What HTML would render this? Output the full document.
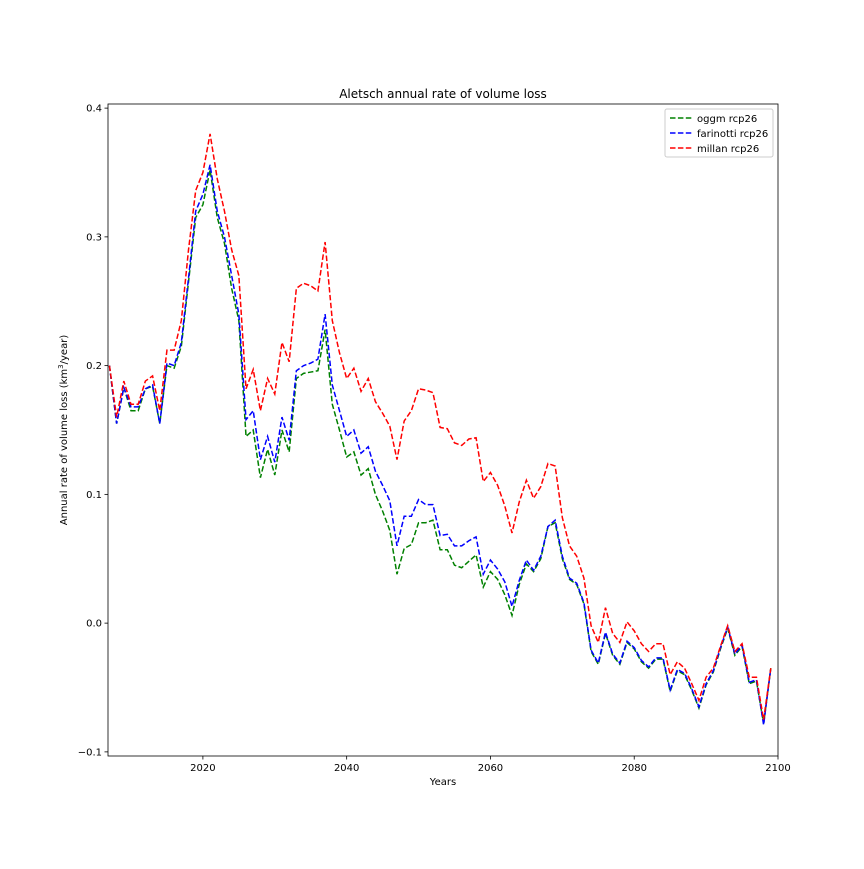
<!DOCTYPE html>
<html><head><meta charset="utf-8"><style>
body{margin:0;background:#fff;font-family:"Liberation Sans","DejaVu Sans",sans-serif;}
svg text{font-family:"DejaVu Sans","Liberation Sans",sans-serif;}
</style></head><body>
<svg id="chart" width="864" height="864" viewBox="0 0 864 864" xmlns="http://www.w3.org/2000/svg">
<rect width="864" height="864" fill="#fff"/>
<text x="443" y="98" font-size="12" text-anchor="middle">Aletsch annual rate of volume loss</text>
<text x="443" y="785" font-size="10" text-anchor="middle">Years</text>
<text transform="translate(67,430) rotate(-90)" font-size="10" text-anchor="middle">Annual rate of volume loss (km<tspan baseline-shift="super" font-size="7">3</tspan>/year)</text>
<g id="series"></g>
<g id="axes"></g>
<g id="legend">
<rect x="665" y="109" width="108" height="48" fill="#fff" stroke="#ccc" rx="2"/>
<line x1="670" y1="118" x2="692" y2="118" stroke="green" stroke-width="1.5" stroke-dasharray="5.5,2.4"/>
<text x="697" y="122" font-size="10">oggm rcp26</text>
<line x1="670" y1="133" x2="692" y2="133" stroke="blue" stroke-width="1.5" stroke-dasharray="5.5,2.4"/>
<text x="697" y="137" font-size="10">farinotti rcp26</text>
<line x1="670" y1="148" x2="692" y2="148" stroke="red" stroke-width="1.5" stroke-dasharray="5.5,2.4"/>
<text x="697" y="152" font-size="10">millan rcp26</text>
</g>
</svg>
<script>
const startYear = 2007;
const oggm = [0.20,0.155,0.183,0.165,0.165,0.182,0.184,0.155,0.200,0.198,0.215,0.265,0.315,0.325,0.352,0.315,0.295,0.26,0.235,0.145,0.15,0.113,0.135,0.115,0.15,0.133,0.19,0.194,0.195,0.196,0.228,0.17,0.15,0.129,0.133,0.115,0.12,0.10,0.087,0.072,0.038,0.058,0.061,0.078,0.078,0.08,0.057,0.057,0.045,0.043,0.048,0.053,0.028,0.04,0.034,0.022,0.006,0.03,0.046,0.04,0.05,0.075,0.078,0.05,0.034,0.03,0.015,-0.022,-0.032,-0.008,-0.025,-0.032,-0.015,-0.02,-0.03,-0.035,-0.028,-0.028,-0.053,-0.037,-0.04,-0.052,-0.066,-0.048,-0.038,-0.02,-0.004,-0.025,-0.018,-0.047,-0.045,-0.078,-0.035];
const farinotti = [0.20,0.155,0.183,0.168,0.168,0.182,0.185,0.155,0.202,0.2,0.218,0.268,0.32,0.333,0.356,0.32,0.30,0.27,0.24,0.158,0.165,0.127,0.145,0.125,0.16,0.142,0.196,0.2,0.202,0.205,0.24,0.185,0.165,0.145,0.15,0.132,0.137,0.118,0.107,0.095,0.06,0.083,0.083,0.096,0.092,0.092,0.068,0.069,0.06,0.06,0.064,0.067,0.038,0.049,0.042,0.032,0.013,0.033,0.049,0.041,0.052,0.075,0.08,0.052,0.035,0.031,0.016,-0.021,-0.031,-0.007,-0.024,-0.031,-0.014,-0.019,-0.029,-0.034,-0.027,-0.027,-0.052,-0.036,-0.039,-0.051,-0.065,-0.047,-0.037,-0.019,-0.003,-0.024,-0.017,-0.046,-0.044,-0.079,-0.035];
const millan = [0.20,0.16,0.188,0.17,0.17,0.188,0.192,0.165,0.212,0.212,0.235,0.29,0.336,0.35,0.38,0.345,0.32,0.29,0.27,0.182,0.197,0.165,0.19,0.178,0.218,0.203,0.26,0.264,0.262,0.258,0.296,0.235,0.21,0.19,0.198,0.18,0.19,0.172,0.163,0.153,0.127,0.157,0.165,0.182,0.181,0.179,0.152,0.151,0.14,0.138,0.143,0.144,0.11,0.117,0.107,0.091,0.07,0.094,0.111,0.097,0.106,0.124,0.122,0.082,0.06,0.052,0.035,-0.002,-0.015,0.012,-0.008,-0.015,0.001,-0.006,-0.016,-0.022,-0.016,-0.016,-0.04,-0.03,-0.035,-0.047,-0.06,-0.042,-0.035,-0.018,-0.002,-0.022,-0.016,-0.042,-0.042,-0.075,-0.035];
const xTicks = [2020,2040,2060,2080,2100];
const yTicks = [-0.1,0.0,0.1,0.2,0.3,0.4];
const yTickLabels = ["\u22120.1","0.0","0.1","0.2","0.3","0.4"];

const L=108,R=778,T=104,B=756;
const xMin=2006.8,xMax=2100,yMin=-0.1032,yMax=0.4032;
const xs=y=>L+(y-xMin)/(xMax-xMin)*(R-L);
const ys=v=>B-(v-yMin)/(yMax-yMin)*(B-T);
const NS="http://www.w3.org/2000/svg";
const sg=document.getElementById('series');
function line(arr,color,name){
  const p=document.createElementNS(NS,'polyline');
  p.setAttribute('points',arr.map((v,i)=>xs(startYear+i).toFixed(2)+','+ys(v).toFixed(2)).join(' '));
  p.setAttribute('fill','none');p.setAttribute('stroke',color);
  p.setAttribute('stroke-width','1.5');p.setAttribute('stroke-dasharray','5.5,2.4');
  
  
  sg.appendChild(p);
}
line(oggm,'green','oggm-line');
line(farinotti,'blue','farinotti-line');
line(millan,'red','millan-line');
const ax=document.getElementById('axes');
const fr=document.createElementNS(NS,'rect');
fr.setAttribute('x',L);fr.setAttribute('y',T);fr.setAttribute('width',R-L);fr.setAttribute('height',B-T);
fr.setAttribute('fill','none');fr.setAttribute('stroke','#000');fr.setAttribute('stroke-width','0.8');


ax.appendChild(fr);
xTicks.forEach(t=>{
  const x=xs(t);
  const l=document.createElementNS(NS,'line');
  l.setAttribute('x1',x);l.setAttribute('x2',x);l.setAttribute('y1',B);l.setAttribute('y2',B+3.5);l.setAttribute('stroke','#000');l.setAttribute('stroke-width','0.8');
  
  
  ax.appendChild(l);
  const tx=document.createElementNS(NS,'text');
  tx.setAttribute('x',x);tx.setAttribute('y',B+15);tx.setAttribute('font-size','10');tx.setAttribute('text-anchor','middle');
  tx.textContent=t;
  
  
  ax.appendChild(tx);
});
yTicks.forEach((t,i)=>{
  const y=ys(t);
  const l=document.createElementNS(NS,'line');
  l.setAttribute('x1',L-3.5);l.setAttribute('x2',L);l.setAttribute('y1',y);l.setAttribute('y2',y);l.setAttribute('stroke','#000');l.setAttribute('stroke-width','0.8');
  
  
  ax.appendChild(l);
  const tx=document.createElementNS(NS,'text');
  tx.setAttribute('x',L-6);tx.setAttribute('y',y+3.5);tx.setAttribute('font-size','10');tx.setAttribute('text-anchor','end');
  tx.textContent=yTickLabels[i];
  
  
  ax.appendChild(tx);
});
</script>
</body></html>
